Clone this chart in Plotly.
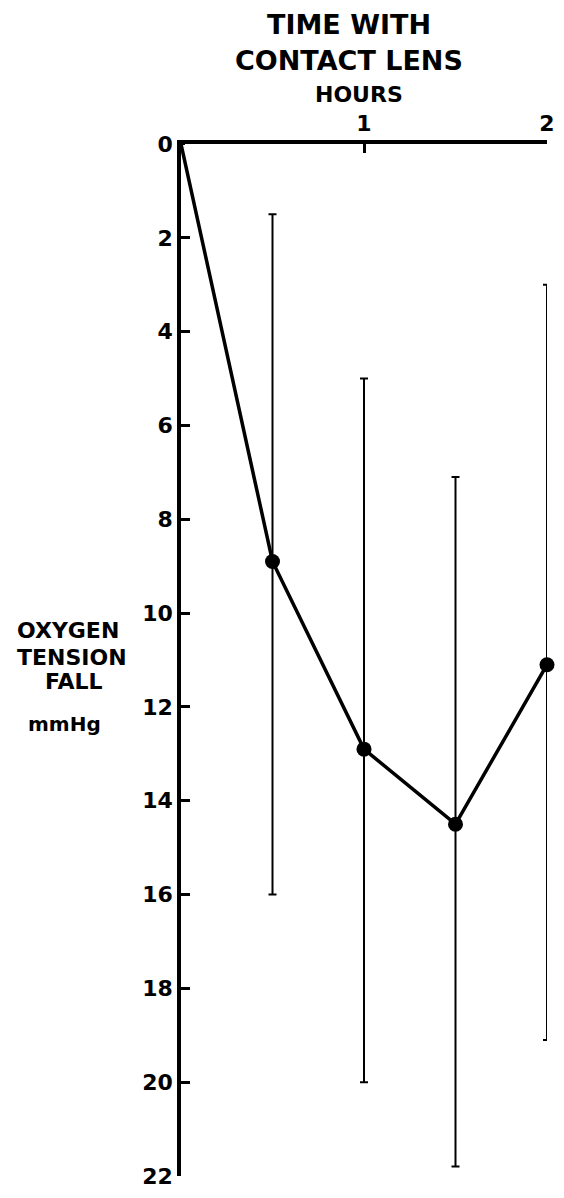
import plotly.graph_objects as go

# Data
hours = [0, 0.5, 1.0, 1.5, 2.0]
o2_fall = [0, 8.9, 12.9, 14.5, 11.1]
err_low = [0, 1.5, 5.0, 7.1, 3.0]      # upper end of bar on screen (smaller fall)
err_high = [0, 16.0, 20.0, 21.8, 19.1]  # lower end of bar on screen (larger fall)
x_ticks = [1, 2]
y_ticks = list(range(0, 23, 2))

plus = [h - v for h, v in zip(err_high, o2_fall)]
minus = [v - l for v, l in zip(o2_fall, err_low)]

FONT = "DejaVu Sans"
WIDTH, HEIGHT = 564, 1198
ML, MR, MT, MB = 181, 9, 144, 16

fig = go.Figure()
fig.add_trace(go.Scatter(
    x=hours, y=o2_fall, mode="lines+markers",
    line=dict(color="black", width=3.5),
    marker=dict(color="black", size=15, opacity=[0, 1, 1, 1, 1]),
    error_y=dict(type="data", symmetric=False, array=plus, arrayminus=minus,
                 color="black", thickness=2, width=4, visible=True),
    cliponaxis=False, showlegend=False,
))

fig.update_layout(
    width=WIDTH, height=HEIGHT,
    margin=dict(l=ML, r=MR, t=MT, b=MB),
    plot_bgcolor="white", paper_bgcolor="white",
    font=dict(family=FONT, color="black"),
    xaxis=dict(
        range=[0, 2], side="top", tickvals=x_ticks, ticktext=[str(t) for t in x_ticks],
        ticks="inside", ticklen=9, tickwidth=3, tickcolor="black",
        ticklabeloverflow="allow",
        showline=True, linecolor="black", linewidth=3.5, showgrid=False, zeroline=False,
        tickfont=dict(family=FONT, size=22, color="black", weight="bold"),
    ),
    yaxis=dict(
        range=[22, 0], tickvals=y_ticks, ticktext=[str(t) for t in y_ticks],
        ticks="inside", ticklen=9, tickwidth=3, tickcolor="black",
        ticklabeloverflow="allow",
        showline=True, linecolor="black", linewidth=3.5, showgrid=False, zeroline=False,
        tickfont=dict(family=FONT, size=22, color="black", weight="bold"),
    ),
)

def ann(text, x, y, size):
    fig.add_annotation(text=text, x=x, y=y, xref="paper", yref="paper",
                       xanchor="center", yanchor="middle", showarrow=False,
                       font=dict(family=FONT, size=size, color="black", weight="bold"))

H = HEIGHT - MT - MB
W = WIDTH - ML - MR
def px(xp):
    return (xp - ML) / W
def py(yp):
    return 1 - (yp - MT) / H

ann("TIME WITH", px(353), py(24), 27)
ann("CONTACT LENS", px(353), py(60), 27)
ann("HOURS", px(363), py(94), 22)
ann("OXYGEN", px(66), py(633), 22)
ann("TENSION", px(70), py(660), 22)
ann("FALL", px(72), py(685), 22)
ann("mmHg", px(62), py(727), 20)

post = """
var s = document.createElement('style');
s.textContent = 'html,body{margin:0;padding:0;overflow:hidden;}';
document.head.appendChild(s);
"""

fig.write_html("out.html", config={"displayModeBar": False}, post_script=post)
